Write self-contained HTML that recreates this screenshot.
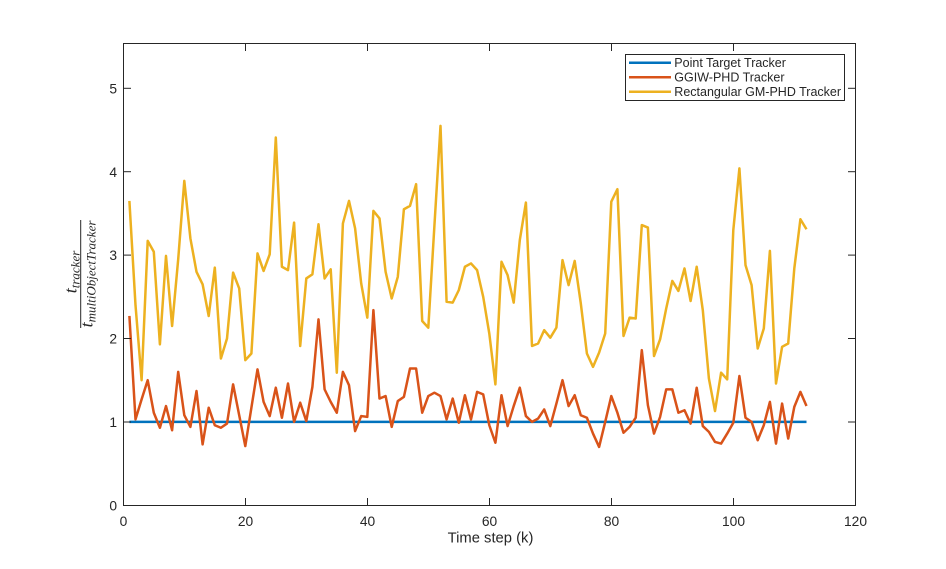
<!DOCTYPE html>
<html>
<head>
<meta charset="utf-8">
<style>
  html, body { margin: 0; padding: 0; background: #ffffff; }
  body { width: 946px; height: 569px; overflow: hidden; }
  svg { display: block; }
  .tick { font-family: "Liberation Sans", Arial, sans-serif; font-size: 13.8px; fill: #262626; }
  .leg { font-family: "Liberation Sans", Arial, sans-serif; font-size: 12.5px; fill: #262626; }
  .xl { font-family: "Liberation Sans", Arial, sans-serif; font-size: 14.8px; fill: #262626; }
  .yl { font-family: "Liberation Serif", "Times New Roman", serif; font-style: italic; fill: #262626; }
</style>
</head>
<body>
<svg width="946" height="569" viewBox="0 0 946 569" xmlns="http://www.w3.org/2000/svg">
  <rect x="0" y="0" width="946" height="569" fill="#ffffff"/>
  <rect x="123.5" y="43.5" width="732" height="462" fill="#ffffff"/>

  <!-- data series -->
  <g transform="translate(123.3,505.3) scale(6.1,-83.4)" fill="none" stroke-linejoin="round" stroke-linecap="butt">
    <polyline vector-effect="non-scaling-stroke" stroke="#0072BD" stroke-width="2.5" points="1,1 112,1"/>
    <polyline vector-effect="non-scaling-stroke" stroke="#D95319" stroke-width="2.5" points="1,2.27 2,1.03 3,1.27 4,1.50 5,1.11 6,0.93 7,1.19 8,0.90 9,1.60 10,1.08 11,0.94 12,1.37 13,0.73 14,1.17 15,0.96 16,0.93 17,0.98 18,1.45 19,1.08 20,0.71 21,1.17 22,1.63 23,1.24 24,1.07 25,1.41 26,1.05 27,1.46 28,1.00 29,1.23 30,1.01 31,1.42 32,2.23 33,1.39 34,1.24 35,1.11 36,1.60 37,1.44 38,0.89 39,1.07 40,1.06 41,2.34 42,1.28 43,1.31 44,0.94 45,1.25 46,1.30 47,1.64 48,1.64 49,1.11 50,1.31 51,1.35 52,1.31 53,1.03 54,1.28 55,0.99 56,1.32 57,1.03 58,1.36 59,1.33 60,0.96 61,0.75 62,1.32 63,0.95 64,1.19 65,1.41 66,1.07 67,1.00 68,1.04 69,1.15 70,0.95 71,1.22 72,1.50 73,1.19 74,1.32 75,1.08 76,1.05 77,0.86 78,0.70 79,1.00 80,1.31 81,1.11 82,0.87 83,0.94 84,1.05 85,1.86 86,1.20 87,0.86 88,1.06 89,1.39 90,1.39 91,1.11 92,1.14 93,0.98 94,1.41 95,0.95 96,0.88 97,0.76 98,0.74 99,0.86 100,0.99 101,1.55 102,1.05 103,1.00 104,0.78 105,0.96 106,1.24 107,0.74 108,1.22 109,0.80 110,1.18 111,1.36 112,1.19"/>
    <polyline vector-effect="non-scaling-stroke" stroke="#EDB120" stroke-width="2.5" points="1,3.65 2,2.40 3,1.50 4,3.17 5,3.04 6,1.93 7,2.99 8,2.15 9,2.95 10,3.89 11,3.20 12,2.80 13,2.65 14,2.27 15,2.85 16,1.76 17,2.00 18,2.79 19,2.60 20,1.74 21,1.82 22,3.02 23,2.81 24,3.01 25,4.41 26,2.86 27,2.82 28,3.39 29,1.91 30,2.72 31,2.77 32,3.37 33,2.72 34,2.83 35,1.59 36,3.38 37,3.65 38,3.32 39,2.66 40,2.25 41,3.53 42,3.44 43,2.80 44,2.48 45,2.74 46,3.55 47,3.59 48,3.85 49,2.21 50,2.13 51,3.35 52,4.55 53,2.44 54,2.43 55,2.58 56,2.86 57,2.90 58,2.82 59,2.50 60,2.06 61,1.45 62,2.92 63,2.76 64,2.43 65,3.18 66,3.63 67,1.91 68,1.94 69,2.10 70,2.01 71,2.13 72,2.94 73,2.64 74,2.93 75,2.42 76,1.82 77,1.66 78,1.83 79,2.06 80,3.64 81,3.79 82,2.03 83,2.25 84,2.24 85,3.36 86,3.33 87,1.79 88,1.99 89,2.36 90,2.69 91,2.57 92,2.84 93,2.45 94,2.86 95,2.34 96,1.52 97,1.13 98,1.59 99,1.51 100,3.30 101,4.04 102,2.88 103,2.64 104,1.88 105,2.12 106,3.05 107,1.46 108,1.90 109,1.94 110,2.84 111,3.43 112,3.31"/>
  </g>

  <!-- axes box -->
  <rect x="123.5" y="43.5" width="732" height="462" fill="none" stroke="#262626" stroke-width="1"/>

  <!-- ticks -->
  <g stroke="#262626" stroke-width="1">
    <line x1="245.5" y1="505.5" x2="245.5" y2="498"/><line x1="245.5" y1="43.5" x2="245.5" y2="51"/>
    <line x1="367.5" y1="505.5" x2="367.5" y2="498"/><line x1="367.5" y1="43.5" x2="367.5" y2="51"/>
    <line x1="489.5" y1="505.5" x2="489.5" y2="498"/><line x1="489.5" y1="43.5" x2="489.5" y2="51"/>
    <line x1="611.5" y1="505.5" x2="611.5" y2="498"/><line x1="611.5" y1="43.5" x2="611.5" y2="51"/>
    <line x1="733.5" y1="505.5" x2="733.5" y2="498"/><line x1="733.5" y1="43.5" x2="733.5" y2="51"/>
    <line x1="123.5" y1="422" x2="131" y2="422"/><line x1="855.5" y1="422" x2="848" y2="422"/>
    <line x1="123.5" y1="338.5" x2="131" y2="338.5"/><line x1="855.5" y1="338.5" x2="848" y2="338.5"/>
    <line x1="123.5" y1="255.1" x2="131" y2="255.1"/><line x1="855.5" y1="255.1" x2="848" y2="255.1"/>
    <line x1="123.5" y1="171.7" x2="131" y2="171.7"/><line x1="855.5" y1="171.7" x2="848" y2="171.7"/>
    <line x1="123.5" y1="88.3" x2="131" y2="88.3"/><line x1="855.5" y1="88.3" x2="848" y2="88.3"/>
  </g>

  <!-- x tick labels -->
  <g class="tick" text-anchor="middle">
    <text x="123.5" y="526">0</text>
    <text x="245.5" y="526">20</text>
    <text x="367.5" y="526">40</text>
    <text x="489.5" y="526">60</text>
    <text x="611.5" y="526">80</text>
    <text x="733.5" y="526">100</text>
    <text x="855.5" y="526">120</text>
  </g>
  <!-- y tick labels -->
  <g class="tick" text-anchor="end">
    <text x="117" y="510.5">0</text>
    <text x="117" y="427">1</text>
    <text x="117" y="343.6">2</text>
    <text x="117" y="260.2">3</text>
    <text x="117" y="176.8">4</text>
    <text x="117" y="93.4">5</text>
  </g>

  <!-- x label -->
  <text class="xl" x="490.5" y="542.3" text-anchor="middle">Time step (k)</text>

  <!-- y label (fraction) -->
  <g transform="translate(80.7,274) rotate(-90)">
    <line x1="-54" y1="0" x2="54" y2="0" stroke="#262626" stroke-width="1"/>
    <text class="yl" x="2" y="-4.2" text-anchor="middle" font-size="18">t<tspan font-size="13" dy="3">tracker</tspan></text>
    <text class="yl" x="0" y="12" text-anchor="middle" font-size="18">t<tspan font-size="13" dy="3">multiObjectTracker</tspan></text>
  </g>

  <!-- legend -->
  <rect x="625.5" y="54.5" width="219" height="46" fill="#ffffff" stroke="#262626" stroke-width="1"/>
  <line x1="629" y1="62.7" x2="671" y2="62.7" stroke="#0072BD" stroke-width="2.5"/>
  <line x1="629" y1="77.3" x2="671" y2="77.3" stroke="#D95319" stroke-width="2.5"/>
  <line x1="629" y1="91.7" x2="671" y2="91.7" stroke="#EDB120" stroke-width="2.5"/>
  <text class="leg" x="674.3" y="67">Point Target Tracker</text>
  <text class="leg" x="674.3" y="81.6">GGIW-PHD Tracker</text>
  <text class="leg" x="674.3" y="96">Rectangular GM-PHD Tracker</text>
</svg>
</body>
</html>
